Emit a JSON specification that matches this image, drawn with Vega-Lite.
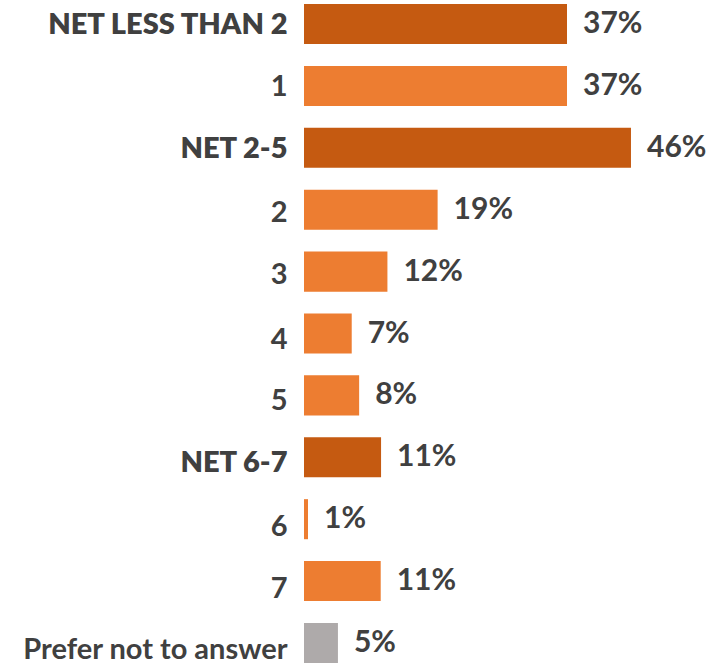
{
  "$schema": "https://vega.github.io/schema/vega-lite/v6.json",
  "autosize": "none",
  "width": 415,
  "height": 659,
  "padding": {"left": 304, "top": 4, "right": 0, "bottom": 3},
  "background": "white",
  "config": {"view": {"stroke": null}, "font": "Lato"},
  "data": {
    "values": [
      {"category": "NET LESS THAN 2", "value": 0.372, "kind": "net"},
      {"category": "1", "value": 0.372, "kind": "item"},
      {"category": "NET 2-5", "value": 0.4625, "kind": "net"},
      {"category": "2", "value": 0.189, "kind": "item"},
      {"category": "3", "value": 0.118, "kind": "item"},
      {"category": "4", "value": 0.0675, "kind": "item"},
      {"category": "5", "value": 0.078, "kind": "item"},
      {"category": "NET 6-7", "value": 0.109, "kind": "net"},
      {"category": "6", "value": 0.0057, "kind": "item"},
      {"category": "7", "value": 0.1085, "kind": "item"},
      {"category": "Prefer not to answer", "value": 0.048, "kind": "other"}
    ]
  },
  "encoding": {
    "y": {
      "field": "category",
      "type": "nominal",
      "sort": null,
      "scale": {"paddingInner": 0.353, "paddingOuter": 0},
      "axis": {
        "title": null,
        "domain": false,
        "ticks": false,
        "labelPadding": 17,
        "labelFont": "Lato",
        "labelFontSize": 29,
        "labelColor": "#404040",
        "labelLimit": 400,
        "labelFontWeight": {"condition": {"test": "indexof(datum.label, 'NET') === 0", "value": 800}, "value": 700},
        "labelOffset": {
          "condition": [
            {"test": "datum.label === 'Prefer not to answer'", "value": 7},
            {"test": "datum.label === '6' || datum.label === '7'", "value": 8},
            {"test": "datum.label === '4' || datum.label === '5' || datum.label === 'NET 6-7'", "value": 6},
            {"test": "datum.label === '2' || datum.label === '3'", "value": 3}
          ],
          "value": 1
        }
      }
    },
    "x": {
      "field": "value",
      "type": "quantitative",
      "scale": {"domain": [0, 0.587], "nice": false},
      "axis": null
    }
  },
  "layer": [
    {
      "mark": {"type": "bar"},
      "encoding": {
        "color": {
          "field": "kind",
          "type": "nominal",
          "scale": {"domain": ["net", "item", "other"], "range": ["#C55A11", "#ED7D31", "#AEAAAA"]},
          "legend": null
        }
      }
    },
    {
      "mark": {"type": "text", "align": "left", "baseline": "middle", "dx": 16, "font": "Lato", "fontSize": 30, "fontWeight": 700, "color": "#404040"},
      "encoding": {
        "text": {"field": "value", "type": "quantitative", "format": ".0%"}
      }
    }
  ]
}
